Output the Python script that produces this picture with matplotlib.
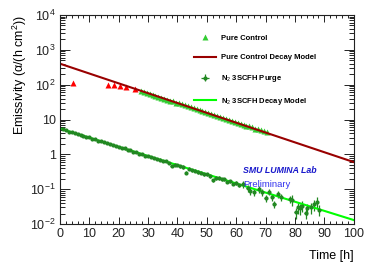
import numpy as np
import matplotlib
matplotlib.use("Agg")
import matplotlib.pyplot as plt
from matplotlib.ticker import FixedLocator, FuncFormatter, MultipleLocator, LogLocator, NullFormatter

plt.rcParams["font.family"] = ["Liberation Sans", "DejaVu Sans"]
plt.rcParams["mathtext.fontset"] = "custom"
plt.rcParams["mathtext.rm"] = "Liberation Sans"
plt.rcParams["mathtext.it"] = "Liberation Sans:italic"
plt.rcParams["mathtext.bf"] = "Liberation Sans:bold"

# pure control, early points (red) and fitted range (green triangles)
ctrl_early_t = [4.4, 16.4, 18.4, 20.5, 22.5, 25.6]
ctrl_early_v = [110, 100, 95, 92, 86, 74]
ctrl_t = [27.6, 28.6, 29.5, 30.5, 31.5, 32.5, 33.5, 34.5, 35.5, 36.5, 37.5, 38.5,
          39.5, 40.5, 41.5, 42.5, 43.5, 44.5, 45.5, 46.5, 47.5, 48.5, 49.5, 50.5,
          51.5, 52.5, 53.5, 54.5, 55.5, 56.5, 57.5, 58.5, 59.5, 60.5, 61.5, 62.5,
          63.5, 64.5, 65.5, 66.5, 67.5, 68.5, 69.5, 70.5]
ctrl_v = [65, 62, 58, 55, 51, 48.5, 45, 42.5, 39.5, 37.5, 35, 33,
          30.5, 29, 27, 25.5, 24, 22.5, 21, 19.8, 18.5, 17.3, 16.2, 15.3,
          14.3, 13.4, 12.6, 11.8, 11.1, 10.4, 9.8, 9.2, 8.6, 8.1, 7.6, 7.1,
          6.7, 6.3, 5.9, 5.5, 5.2, 4.85, 4.55, 4.3]

# N2 3SCFH purge
n2_t = [1, 2, 3, 4, 5, 6, 7, 8, 9, 10, 11, 12, 13, 14, 15, 16, 17, 18, 19, 20,
        21, 22, 23, 24, 25, 26, 27, 28, 29, 30, 31, 32, 33, 34, 35, 36, 37, 38, 39, 40,
        41, 42, 43, 44, 45, 46, 47, 48, 49, 50, 51, 52, 53, 54, 55, 56, 57, 58, 59, 60,
        61, 62.3, 63.9, 64.8, 66, 67.7, 68.8, 70, 71.1, 72.3, 73, 74.2, 75.1, 78.3,
        79.1, 80.2, 81, 81.7, 82.5, 83.6, 84.2, 85.3, 86.5, 87.4, 88.2]
n2_v = [5.3, 4.9, 4.5, 4.35, 4.0, 3.85, 3.55, 3.45, 3.15, 3.05, 2.8, 2.7, 2.45, 2.4,
        2.2, 2.1, 1.92, 1.88, 1.7, 1.66, 1.5, 1.48, 1.33, 1.3, 1.18, 1.16, 1.04, 1.03,
        0.92, 0.91, 0.82, 0.8, 0.72, 0.71, 0.64, 0.63, 0.57, 0.47, 0.51, 0.49, 0.45,
        0.44, 0.30, 0.39, 0.35, 0.34, 0.31, 0.30, 0.27, 0.27, 0.24, 0.18, 0.21, 0.21,
        0.19, 0.19, 0.165, 0.17, 0.145, 0.15, 0.13, 0.139, 0.105, 0.089, 0.081, 0.10,
        0.081, 0.055, 0.085, 0.060, 0.037, 0.072, 0.058, 0.051, 0.049, 0.022, 0.030,
        0.028, 0.033, 0.021, 0.028, 0.030, 0.037, 0.044, 0.026]
n2_relerr = [0.05] * 20 + [0.07] * 20 + [0.11] * 21 + [0.22] * 13 + [0.35] * 11

# decay models (end points)
model_t = [0, 100]
ctrl_model = [400, 0.60]
n2_model = [5.5, 0.013]

fig = plt.figure(figsize=(3.74, 2.68), dpi=100)
ax = fig.add_axes([60 / 374, 1 - 224 / 268, 293.7 / 374, 209 / 268])

ax.plot(ctrl_early_t, ctrl_early_v, "^", color="#ff0000", ms=4.5, mec="none")
h1, = ax.plot(ctrl_t, ctrl_v, "^", color="#33cc33", ms=4.5, mec="none", label="Pure Control")
h2, = ax.plot(model_t, ctrl_model, color="#990000", lw=1.5, label="Pure Control Decay Model")
n2_err = np.array(n2_v) * np.array(n2_relerr)
h3 = ax.errorbar(n2_t, n2_v, yerr=n2_err, xerr=0.4, fmt="o", ms=2, color="#228822",
                 ecolor="#228822", elinewidth=0.9, capsize=0, label=r"N$_2$ 3SCFH Purge")
h4, = ax.plot(model_t, n2_model, color="#00ff00", lw=1.5, label=r"N$_2$ 3SCFH Decay Model")

ax.set_yscale("log")
ax.set_xlim(0, 100)
ax.set_ylim(1e-2, 1e4)

ax.xaxis.set_major_locator(MultipleLocator(10))
ax.xaxis.set_minor_locator(MultipleLocator(2))
ax.yaxis.set_major_locator(FixedLocator([1e-2, 1e-1, 1, 10, 1e2, 1e3, 1e4]))
ax.yaxis.set_minor_locator(LogLocator(base=10, subs=np.arange(2, 10)))
ax.yaxis.set_minor_formatter(NullFormatter())


def ylab(v, pos):
    if v == 1:
        return "1"
    if v == 10:
        return "10"
    return r"$10^{%d}$" % round(np.log10(v))


ax.yaxis.set_major_formatter(FuncFormatter(ylab))
ax.tick_params(which="both", direction="in", top=True, right=True, labelsize=9,
               colors="#222222", width=0.7)
ax.tick_params(axis="x", which="major", length=5, pad=3)
ax.tick_params(axis="x", which="minor", length=2.5)
ax.tick_params(axis="y", which="major", length=7, pad=3)
ax.tick_params(axis="y", which="minor", length=3.5)
for s in ax.spines.values():
    s.set_linewidth(0.8)
    s.set_color("#222222")

ax.set_xlabel("Time [h]", loc="right", fontsize=9, labelpad=7)
ax.set_ylabel("Emissivity (α/(h cm$^2$))", loc="top", fontsize=9, labelpad=1)

ax.text(0.623, 0.258, "SMU LUMINA Lab", transform=ax.transAxes, color="#1a1acc",
        fontsize=6.3, fontweight="bold", fontstyle="italic", va="center")
ax.text(0.623, 0.191, "Preliminary", transform=ax.transAxes, color="#3333ee",
        fontsize=6.8, va="center")

fig.legend([h1, h2, h3, h4], [h.get_label() for h in [h1, h2, h3, h4]],
           loc="upper left", bbox_to_anchor=(190 / 374, 1 - 31 / 268), frameon=False,
           prop={"size": 5.5, "weight": "bold"}, handlelength=2.9, handletextpad=0.7,
           labelspacing=1.55, borderpad=0)

fig.savefig("out.png", dpi=100)
